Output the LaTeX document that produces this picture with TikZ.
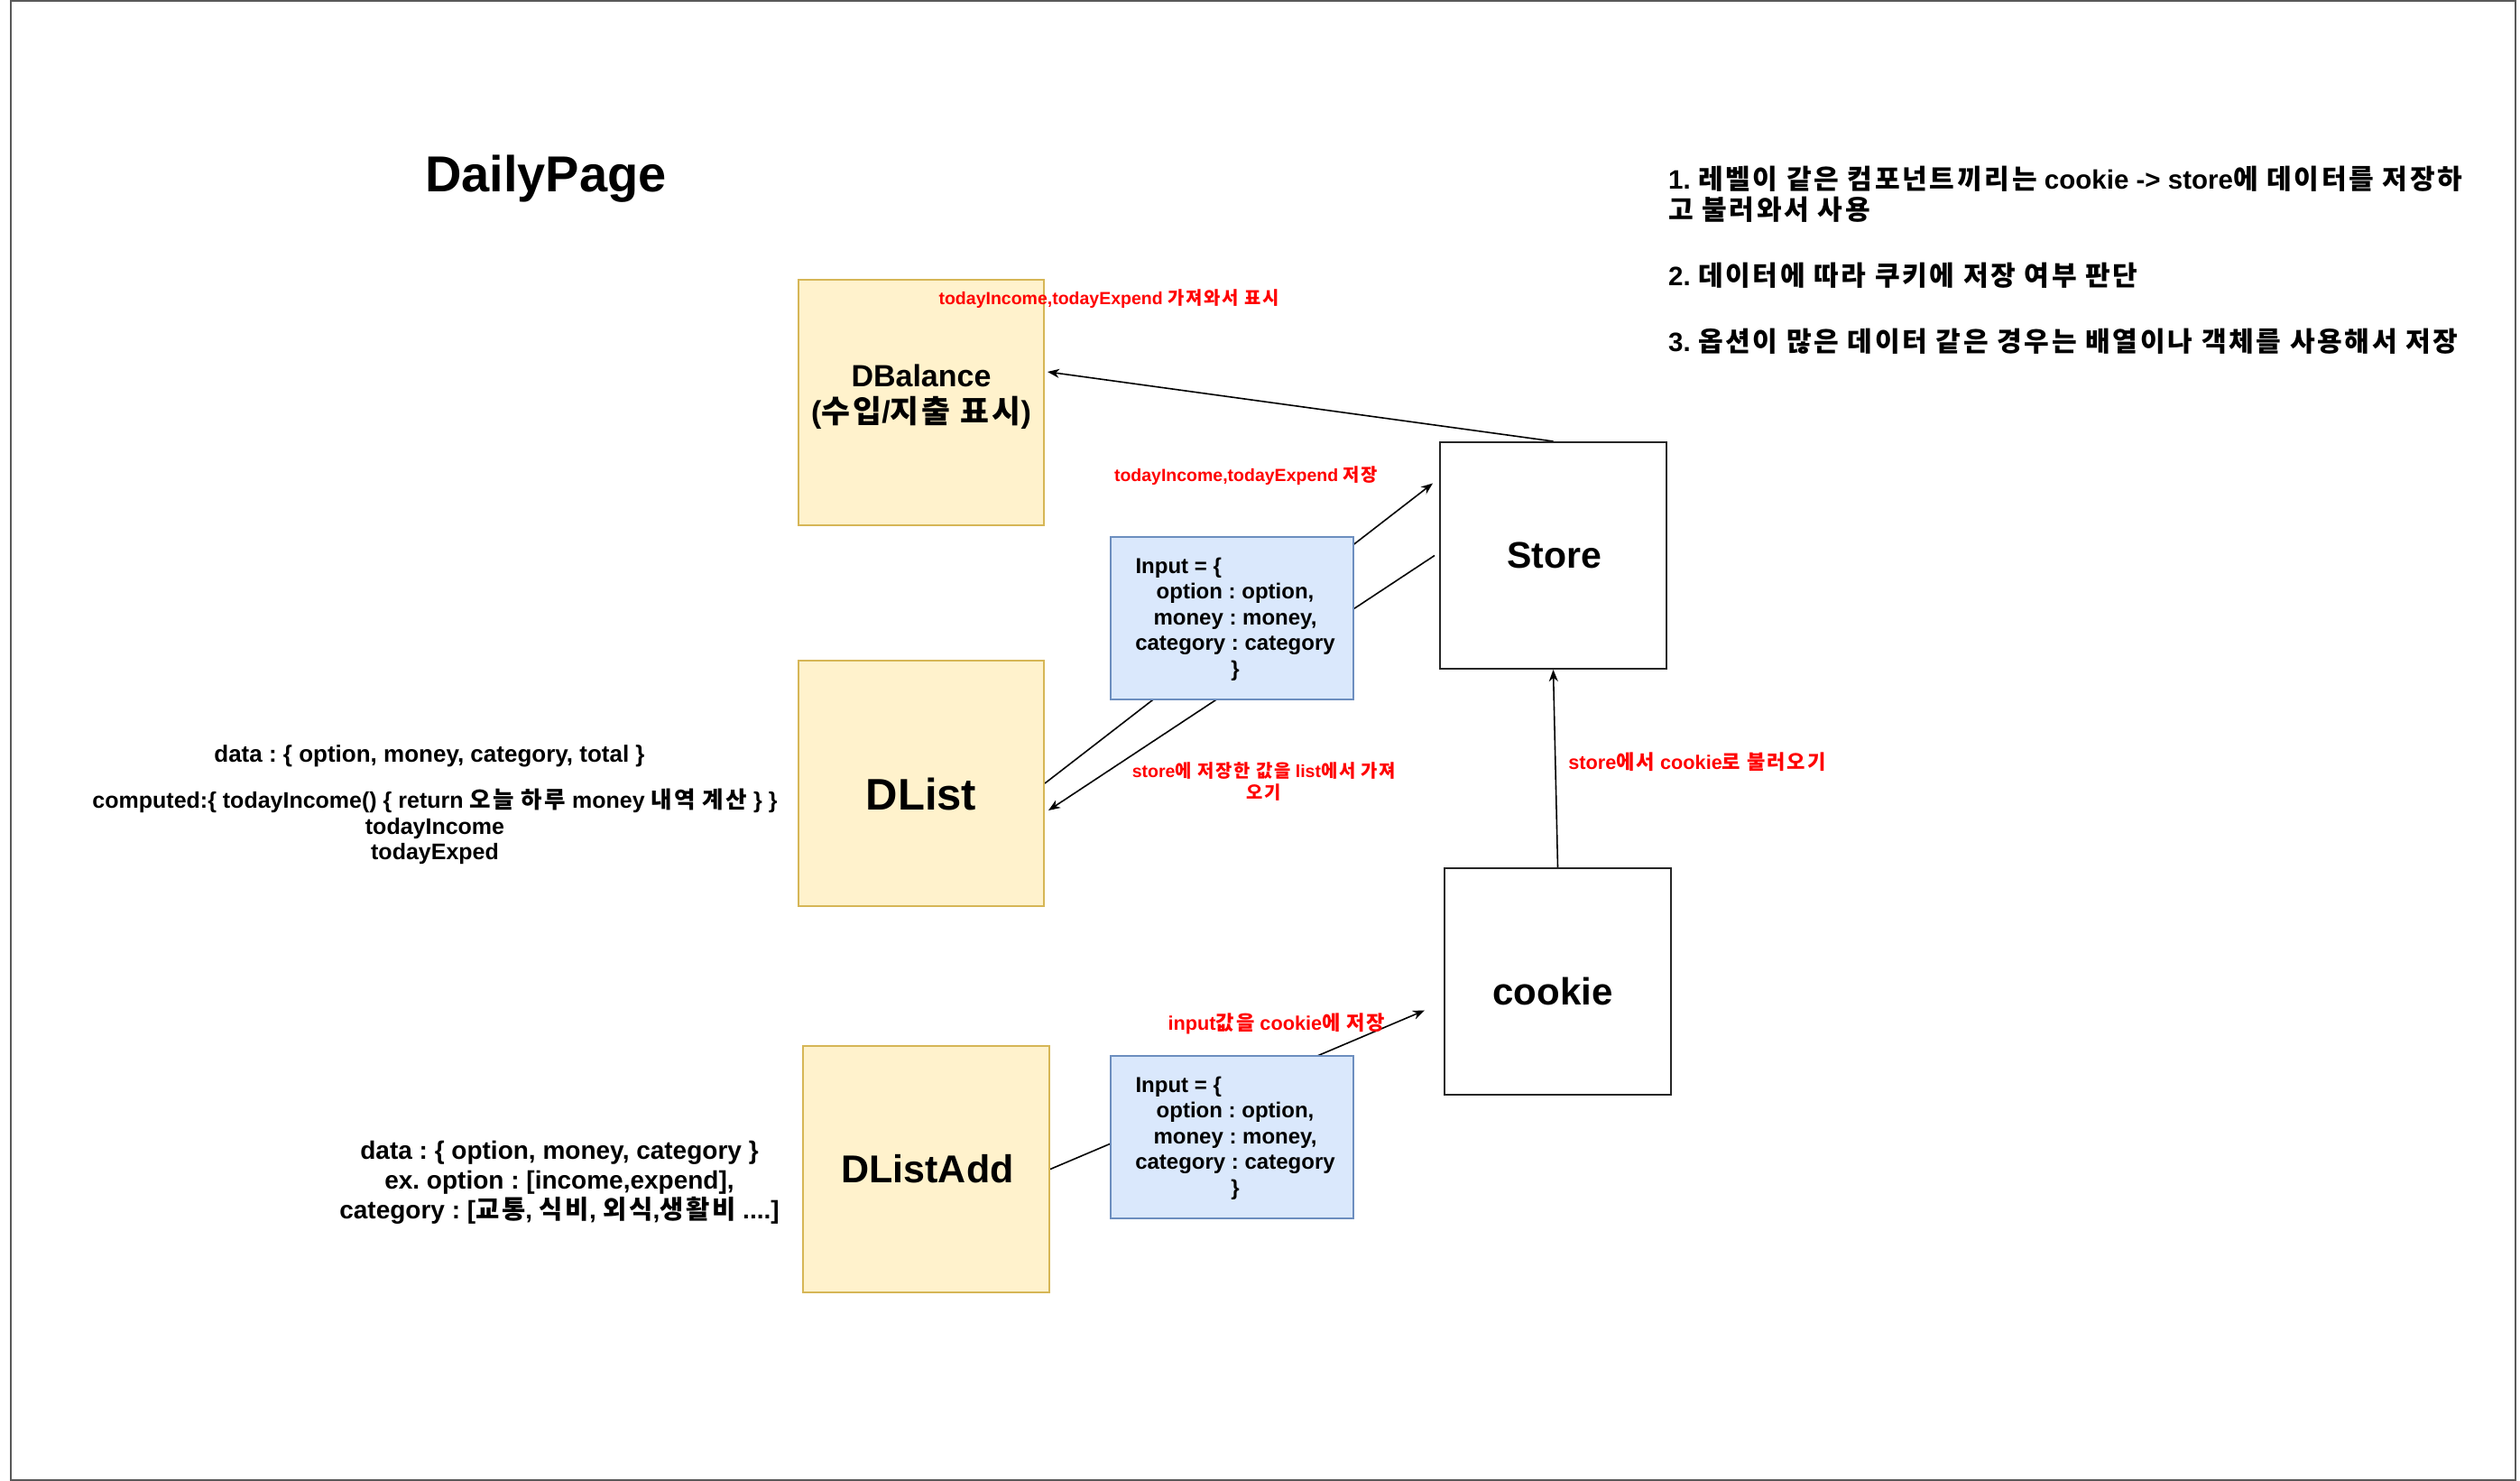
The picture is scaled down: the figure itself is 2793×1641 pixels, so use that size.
\documentclass[tikz,border=0pt]{standalone}
\usepackage{fontspec}
\setmainfont{Liberation Sans}
\newfontfamily\krf{Noto Sans CJK KR}[Scale=1.02,LetterSpace=9]
\usetikzlibrary{arrows.meta}
\newcommand\K[1]{{\krf #1}}
\definecolor{yfill}{HTML}{FFF2CC}
\definecolor{ystroke}{HTML}{D6B656}
\definecolor{bfill}{HTML}{DAE8FC}
\definecolor{bstroke}{HTML}{6C8EBF}
\definecolor{redtxt}{HTML}{FF0000}
\pgfdeclarelayer{background}
\pgfsetlayers{background,main}
\begin{document}
\frenchspacing
\begin{tikzpicture}[x=1pt,y=-1pt,
  ybox/.style={draw=ystroke, fill=yfill, line width=2pt, inner sep=0pt},
  wbox/.style={draw=black!85, fill=white, line width=2pt, inner sep=0pt, minimum width=251pt, minimum height=251pt},
  ibox/.style={draw=bstroke, fill=bfill, line width=2pt, inner sep=0pt, minimum width=269pt, minimum height=180pt},
  txt/.style={inner sep=0pt, text=black},
  redlab/.style={inner sep=0pt, text=redtxt, align=center, font=\bfseries\fontsize{19.5}{23.5}\selectfont},
  redbig/.style={redlab, font=\bfseries\fontsize{21.7}{26}\selectfont},
  intext/.style={inner sep=0pt, align=center, font=\bfseries\fontsize{24}{28.5}\selectfont},
  notes/.style={inner sep=0pt, anchor=base west, font=\bfseries\fontsize{29.5}{34}\selectfont},
  conn/.style={draw=black, line width=1.6pt, -{Stealth[length=13pt,width=10pt,inset=4pt]}}
]
\useasboundingbox (0,0) rectangle (2793,1641);

% boxes
\node[ybox, minimum width=272pt, minimum height=272pt] (dbal) at (1021,446) {};
\node[ybox, minimum width=272pt, minimum height=272pt] (dlist) at (1021,868) {};
\node[ybox, minimum width=273pt, minimum height=273pt] (dadd) at (1026.5,1295.5) {};
\node[wbox] (store) at (1721.5,615.5) {};
\node[wbox] (cookie) at (1726.5,1087.5) {};
\node[ibox] (in1) at (1365.5,685) {};
\node[ibox] (in2) at (1365.5,1260) {};

% box texts
\node[txt, align=center, font=\bfseries\fontsize{34}{40}\selectfont] (tdbal) at (1021,440) {DBalance\\(\K{수입}/\K{지출 표시})};
\node[txt, font=\bfseries\fontsize{49}{58}\selectfont] (tdlist) at (1021,880) {DList};
\node[txt, font=\bfseries\fontsize{43}{52}\selectfont] (tdadd) at (1028,1295) {DListAdd};
\node[txt, font=\bfseries\fontsize{41}{49}\selectfont] (tstore) at (1723,615) {Store};
\node[txt, font=\bfseries\fontsize{42}{50}\selectfont] (tcookie) at (1721,1098) {cookie};
\node[intext] (tin1) at (1369,686) {\makebox[221pt][l]{Input = \{}\\option : option,\\money : money,\\category : category\\\}};
\node[intext] (tin2) at (1369,1261) {\makebox[221pt][l]{Input = \{}\\option : option,\\money : money,\\category : category\\\}};

% title and notes
\node[txt, font=\bfseries\fontsize{56}{67}\selectfont] (title) at (605,198) {DailyPage};
\node[notes] (n1) at (1849,209) {1. \K{레벨이 같은 컴포넌트끼리는} cookie -> store\K{에 데이터를 저장하}};
\node[notes] (n1b) at (1849,243) {\K{고 불러와서 사용}};
\node[notes] (n2) at (1849,316) {2. \K{데이터에 따라 쿠키에 저장 여부 판단}};
\node[notes] (n3) at (1849,389) {3. \K{옵션이 많은 데이터 같은 경우는 배열이나 객체를 사용해서 저장}};

% side texts
\node[txt, font=\bfseries\fontsize{26}{30}\selectfont] (d1) at (476,838) {data : \{ option, money, category, total \}};
\node[txt, align=center, font=\bfseries\fontsize{25}{28.5}\selectfont] (d2) at (482,916) {computed:\{ todayIncome() \{ return \K{오늘 하루} money \K{내역 계산} \} \}\\todayIncome\\todayExped};
\node[txt, align=center, font=\bfseries\fontsize{28}{33}\selectfont] (d3) at (620,1310) {data : \{ option, money, category \}\\ex. option : [income,expend],\\category : [\K{교통}, \K{식비}, \K{외식},\K{생활비} ....]};

% red labels
\node[redlab] (l1) at (1229,331) {todayIncome,todayExpend \K{가져와서 표시}};
\node[redlab] (l2) at (1381,527) {todayIncome,todayExpend \K{저장}};
\node[redlab] (l3) at (1401,866) {store\K{에 저장한 값을} list\K{에서 가져}\\\K{오기}};
\node[redbig] (l4) at (1881,844) {store\K{에서} cookie\K{로 불러오기}};
\node[redbig] (l5) at (1415,1134) {input\K{값을} cookie\K{에 저장}};

% background, frame and connectors
\begin{pgfonlayer}{background}
\fill[white] (0,0) rectangle (2793,1641);
\draw[black!65, line width=2pt] (12,1) rectangle (2788,1640);
\draw[conn] (store.north) -- ([xshift=3pt,yshift=34pt]dbal.east);
\draw[conn] (dlist.east) -- ([xshift=-7pt,yshift=80pt]store.west);
\draw[conn] ([xshift=-5pt]store.west) -- ([xshift=4pt,yshift=-30pt]dlist.east);
\draw[conn] (cookie.north) -- (store.south);
\draw[conn] (dadd.east) -- ([xshift=-21pt,yshift=-32pt]cookie.west);
\end{pgfonlayer}
\end{tikzpicture}
\end{document}
